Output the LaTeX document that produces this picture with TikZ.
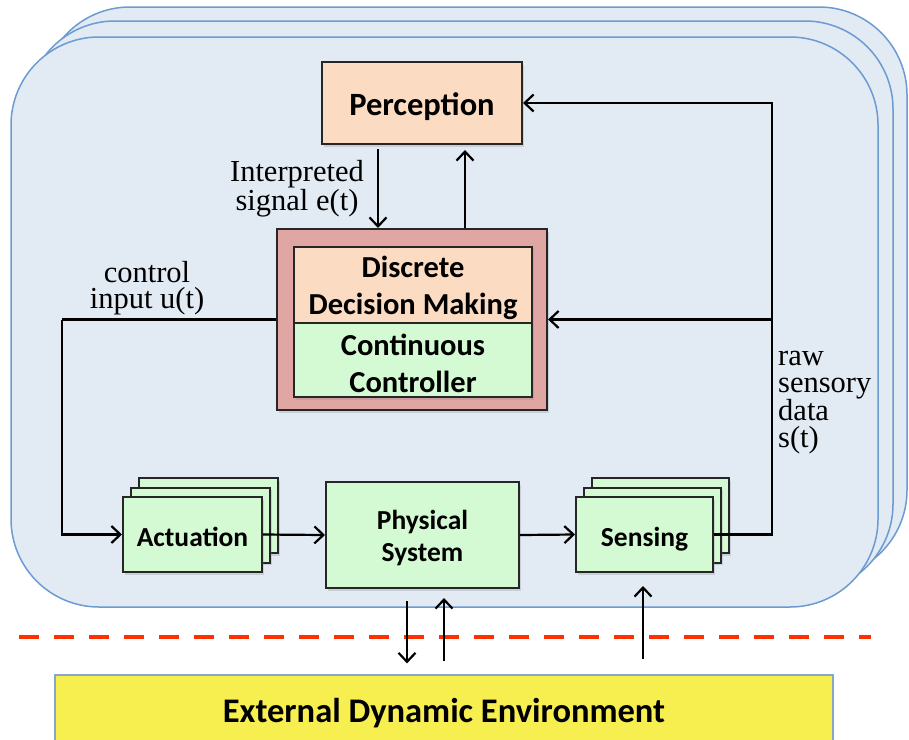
\documentclass[tikz,border=0pt]{standalone}
\usepackage{fontspec}
\setmainfont{Liberation Serif}
\newfontfamily\boxfont{Carlito}
\usetikzlibrary{arrows.meta,shadows}

\definecolor{bgfill}{HTML}{E2EAF4}
\definecolor{bgline}{HTML}{6B9BD0}
\definecolor{peach}{HTML}{FBDCC2}
\definecolor{rosebox}{HTML}{E0A6A4}
\definecolor{mint}{HTML}{D4FAD4}
\definecolor{envyellow}{HTML}{F7EE4F}
\definecolor{envline}{HTML}{86A6CC}
\definecolor{dashred}{HTML}{FF2F00}

\tikzset{
  layer/.style={draw=bgline, line width=1.5pt, fill=bgfill, rounded corners=88pt},
  blk/.style={draw=black!85, line width=2pt, inner sep=0pt,
    drop shadow={shadow xshift=2pt, shadow yshift=-2.5pt, opacity=0.25}},
  blktext/.style={inner sep=0pt, align=center,
    font=\boxfont\bfseries\fontsize{27.5}{32}\selectfont},
  lbl/.style={font=\fontsize{30.5}{26.5}\selectfont, inner sep=0pt},
  arr/.style={draw=black, line width=2.2pt, -{Straight Barb[length=9pt,width=17pt,line width=2.2pt]}},
  wire/.style={draw=black, line width=2.2pt},
}

\begin{document}
\begin{tikzpicture}[x=1pt, y=-1pt]
\useasboundingbox (0,0) rectangle (909,739);

% stacked rounded panels
\draw[layer] (42,7) rectangle (907,578);
\draw[layer] (27,21) rectangle (893,592);
\draw[layer] (11,37) rectangle (878,607);

% boundary to the environment
\coordinate (dl) at (19,637);
\coordinate (dr) at (871,637);
\draw[dashred, line width=4.5pt, dash pattern=on 20pt off 15pt] (dl) -- (dr);

% blocks
\node[blk, fill=peach, minimum width=200pt, minimum height=82pt] (per) at (422,103) {};
\node[blktext, font=\boxfont\bfseries\fontsize{32.5}{32}\selectfont] (perT)
  at ([yshift=-4pt]per.center) {Perception};

\node[blk, fill=rosebox, minimum width=270pt, minimum height=181pt] (red) at (412,319.5) {};
\node[blk, fill=peach, minimum width=238pt, minimum height=77pt] (ddm) at (413,285) {};
\node[blktext, font=\boxfont\bfseries\fontsize{30.5}{37}\selectfont] (ddmT)
  at ([yshift=-3pt]ddm.center) {Discrete\\Decision Making};
\node[blk, fill=mint, minimum width=238pt, minimum height=74pt] (cc) at (413,360) {};
\node[blktext, font=\boxfont\bfseries\fontsize{30.5}{37}\selectfont] (ccT)
  at ([yshift=-3pt]cc.center) {Continuous\\Controller};

% actuation stack
\node[blk, fill=mint, minimum width=139pt, minimum height=75pt] (act2) at (208.5,515.5) {};
\node[blk, fill=mint, minimum width=139pt, minimum height=75pt] (act1) at (200.5,525) {};
\node[blk, fill=mint, minimum width=139pt, minimum height=75pt] (act) at (192.5,534.5) {};
\node[blktext] (actT) at ([yshift=-2pt]act.center) {Actuation};

\node[blk, fill=mint, minimum width=193pt, minimum height=106pt] (phys) at (422.5,535) {};
\node[blktext] (physT) at ([yshift=-3pt]phys.center) {Physical\\System};

% sensing stack
\node[blk, fill=mint, minimum width=137pt, minimum height=75pt] (sen2) at (660.5,515.5) {};
\node[blk, fill=mint, minimum width=137pt, minimum height=75pt] (sen1) at (652.5,525) {};
\node[blk, fill=mint, minimum width=137pt, minimum height=75pt] (sen) at (644.5,534.5) {};
\node[blktext] (senT) at ([yshift=-5pt]sen.center) {Sensing};

\node[draw=envline, line width=1.2pt, fill=envyellow, minimum width=778pt, minimum height=76pt,
      inner sep=0pt, font=\boxfont\bfseries\fontsize{34.5}{36}\selectfont] (env) at (444,713) {External Dynamic Environment};

% signal labels
\node[lbl, align=center] (le) at (297,189) {Interpreted\\signal e(t)};
\node[lbl, align=center] (lu) at (147,288) {control\\input u(t)};
\node[lbl, align=left, anchor=north west] (ls) at (778,351) {raw\\sensory\\data\\s(t)};

% perception <-> decision making
\draw[arr] ([xshift=-44pt,yshift=-4pt]per.south) -- ([xshift=-34pt]red.north);
\draw[arr] ([xshift=53pt]red.north) -- ([xshift=43pt,yshift=-5pt]per.south);

% feedback from sensing
\coordinate (fbtop) at (772,103);
\draw[arr] (sen.east) -| (fbtop) -- (per.east);
\draw[arr] (fbtop |- red.east) -- (red.east);

% control input to actuation
\coordinate (ctl) at (62,319.5);
\draw[wire] (red.west) -- (ctl);
\draw[arr] (ctl) |- (act.west);

% forward chain
\draw[arr] (act.east) -- (phys.west);
\draw[arr] (phys.east) -- (sen.west);

% exchange with the environment
\draw[arr] ([xshift=-15.5pt,yshift=-12pt]phys.south) -- ([xshift=-37pt,yshift=11pt]env.north);
\draw[arr] ([yshift=13pt]env.north) -- ([xshift=21.5pt,yshift=-9pt]phys.south);
\draw[arr] ([xshift=199pt,yshift=15pt]env.north) -- ([xshift=-1.5pt,yshift=-13pt]sen.south);
\end{tikzpicture}
\end{document}
